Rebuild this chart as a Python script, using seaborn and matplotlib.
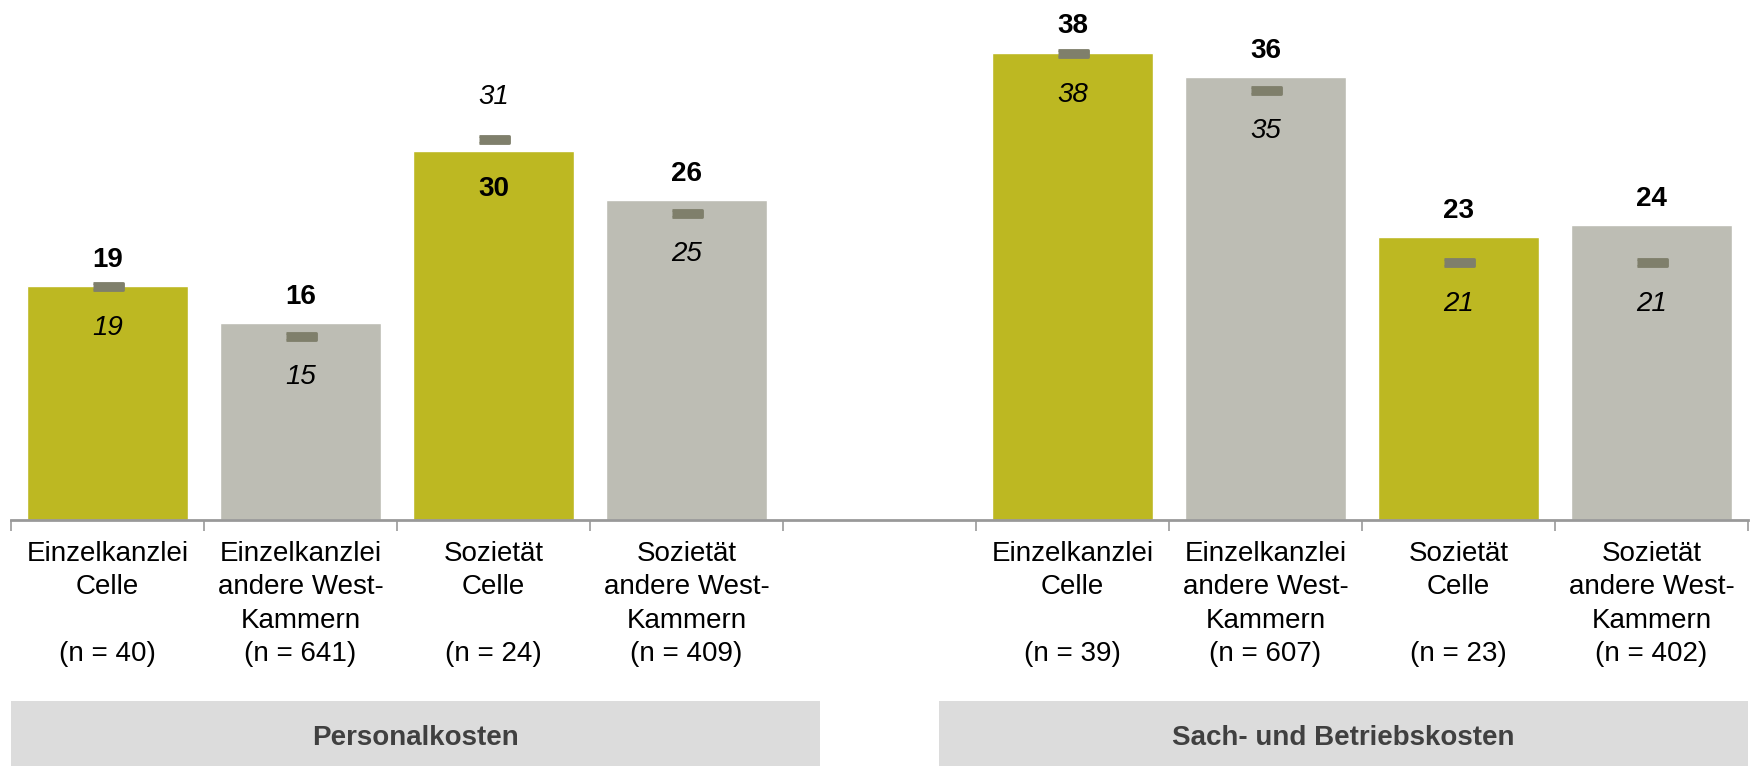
import seaborn as sns
import matplotlib.pyplot as plt
import matplotlib.patches as mpatches
import pandas as pd
import numpy as np

# Daten
slots = ["P1", "P2", "P3", "P4", "gap", "S1", "S2", "S3", "S4"]
werte = [19, 16, 30, 26, np.nan, 38, 36, 23, 24]
vorjahr = [19, 15, 31, 25, np.nan, 38, 35, 21, 21]
kategorien = ["Einzelkanzlei\nCelle\n\n(n = 40)",
              "Einzelkanzlei\nandere West-\nKammern\n(n = 641)",
              "Sozietät\nCelle\n\n(n = 24)",
              "Sozietät\nandere West-\nKammern\n(n = 409)",
              "",
              "Einzelkanzlei\nCelle\n\n(n = 39)",
              "Einzelkanzlei\nandere West-\nKammern\n(n = 607)",
              "Sozietät\nCelle\n\n(n = 23)",
              "Sozietät\nandere West-\nKammern\n(n = 402)"]
gruppen = ["Personalkosten", "Sach- und Betriebskosten"]

OLIV = "#bdb822"
GRAU = "#bdbdb4"
farben = {s: (OLIV if s[-1] in "13" else GRAU) for s in slots}

df = pd.DataFrame({"slot": slots, "wert": werte, "vorjahr": vorjahr})

sns.set_theme(style="white")
plt.rcParams['font.family'] = ['Liberation Sans', 'DejaVu Sans']

fig = plt.figure(figsize=(17.54, 7.66), dpi=100)
ax = fig.add_axes([0.0063, 0.321, 0.9903, 0.679])

sns.barplot(data=df, x="slot", y="wert", hue="slot", order=slots,
            palette=farben, width=0.83, saturation=1, legend=False,
            errorbar=None, ax=ax)

strich = [(-1, -0.24), (1, -0.24), (1, 0.24), (-1, 0.24)]
sns.pointplot(data=df, x="slot", y="vorjahr", order=slots, color="#7f7f6b",
              linestyle="none", marker=strich, markersize=21, errorbar=None, ax=ax)

for i, (w, v) in enumerate(zip(werte, vorjahr)):
    if np.isnan(w):
        continue
    if v > w:
        oben_w, oben_v = -27, 30
    else:
        oben_w, oben_v = 19, -30
    ax.annotate(f"{w:.0f}", (i, w), xytext=(0, oben_w), textcoords="offset points",
                ha="center", va="center", fontsize=20, fontweight="bold", color="black")
    ax.annotate(f"{v:.0f}", (i, v), xytext=(0, oben_v), textcoords="offset points",
                ha="center", va="center", fontsize=20, fontstyle="italic", color="black")

ax.set_ylim(0, 42.3)
ax.set_xlim(-0.5, 8.5)
ax.set_yticks([])
ax.set_xlabel("")
ax.set_ylabel("")
ax.set_xticks(range(len(slots)))
ax.set_xticklabels(kategorien, fontsize=20, linespacing=1.37, va="top", color="black")
ax.set_xticks(np.arange(-0.5, 9, 1), minor=True)
ax.tick_params(axis="x", which="major", length=0, pad=15)
ax.tick_params(axis="x", which="minor", length=8, width=1.2, color="#999999", bottom=True)
for s in ["top", "left", "right"]:
    ax.spines[s].set_visible(False)
ax.spines["bottom"].set_color("#999999")
ax.spines["bottom"].set_linewidth(2)

# Gruppenkästen
for x0, x1, name in [(0.0063, 0.4675, gruppen[0]), (0.5353, 0.9966, gruppen[1])]:
    fig.patches.append(mpatches.Rectangle((x0, 0), x1 - x0, 0.085, transform=fig.transFigure,
                                          facecolor="#dcdcdc", edgecolor="none"))
    fig.text((x0 + x1) / 2, 0.037, name, ha="center", va="center", fontsize=20,
             fontweight="bold", color="#404040")

fig.savefig("out.png", dpi=100)
